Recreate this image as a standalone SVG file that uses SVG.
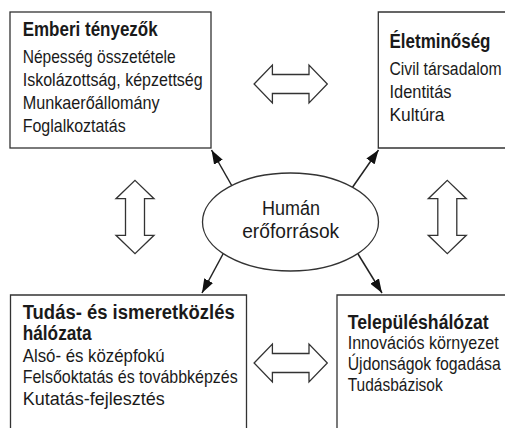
<svg xmlns="http://www.w3.org/2000/svg" width="505" height="428" viewBox="0 0 505 428">
<style>
  .box { fill: #ffffff; stroke: #333333; stroke-width: 1.3; }
  .t { font-family: 'Liberation Sans Narrow', 'Liberation Sans', Arial, sans-serif; fill: #1a1a1a; }
  .title { font-size: 19.5px; font-weight: bold; }
  .body { font-size: 18.5px; }
  .body4 { font-size: 18px; }
  .ctr { font-size: 20px; text-anchor: middle; }
  .conn { stroke: #222222; stroke-width: 1.5; fill: none; }
  .dbl { fill: #ffffff; stroke: #333333; stroke-width: 1.3; stroke-linejoin: miter; }
</style>
<defs>
  <marker id="ah" viewBox="0 0 14 10" refX="14" refY="5" markerWidth="14" markerHeight="10" markerUnits="userSpaceOnUse" orient="auto">
    <path d="M0,0 L14,5 L0,10 z" fill="#111111"/>
  </marker>
  <path id="dblH" class="dbl" d="M-36.6,0 L-18.3,-19 L-18.3,-9.5 L18.3,-9.5 L18.3,-19 L36.6,0 L18.3,19 L18.3,9.5 L-18.3,9.5 L-18.3,19 Z"/>
</defs>

<g id="connectors">
  <line class="conn" x1="232" y1="186" x2="211.5" y2="150" marker-end="url(#ah)"/>
  <line class="conn" x1="352" y1="188" x2="378.5" y2="150" marker-end="url(#ah)"/>
  <line class="conn" x1="223" y1="254" x2="202" y2="293" marker-end="url(#ah)"/>
  <line class="conn" x1="358" y1="254" x2="382" y2="293" marker-end="url(#ah)"/>
  <use href="#dblH" transform="translate(290.7,84)"/>
  <use href="#dblH" transform="translate(290.7,363)"/>
  <use href="#dblH" transform="translate(135,217) rotate(90)"/>
  <use href="#dblH" transform="translate(447.3,217) rotate(90)"/>
</g>

<g id="node-emberi">
  <rect class="box" x="10" y="12" width="201" height="136"/>
  <text class="t title" x="22.7" y="36" textLength="135" lengthAdjust="spacingAndGlyphs">Emberi tényezők</text>
  <text class="t body" x="22.7" y="63" textLength="153" lengthAdjust="spacingAndGlyphs">Népesség összetétele</text>
  <text class="t body" x="22.7" y="86" textLength="180" lengthAdjust="spacingAndGlyphs">Iskolázottság, képzettség</text>
  <text class="t body" x="22.7" y="109" textLength="137" lengthAdjust="spacingAndGlyphs">Munkaerőállomány</text>
  <text class="t body" x="22.7" y="132" textLength="103" lengthAdjust="spacingAndGlyphs">Foglalkoztatás</text>
</g>

<g id="node-eletminoseg">
  <path class="box" d="M505,12 H378.3 V148 H505"/>
  <text class="t title" x="389.5" y="48" textLength="101" lengthAdjust="spacingAndGlyphs">Életminőség</text>
  <text class="t body" transform="translate(389.5,75) scale(0.85,1)" x="0" y="0" textLength="131.8" lengthAdjust="spacingAndGlyphs">Civil társadalom</text>
  <text class="t body" x="389.5" y="98" textLength="62" lengthAdjust="spacingAndGlyphs">Identitás</text>
  <text class="t body" x="389.5" y="121" textLength="55" lengthAdjust="spacingAndGlyphs">Kultúra</text>
</g>

<g id="node-tudas">
  <path class="box" d="M10.5,428 V295 H246.5 V428"/>
  <text class="t title" x="22.7" y="318.5" textLength="212" lengthAdjust="spacingAndGlyphs">Tudás- és ismeretközlés</text>
  <text class="t title" x="22.7" y="340" textLength="69" lengthAdjust="spacingAndGlyphs">hálózata</text>
  <text class="t body" x="22.7" y="361.5" textLength="142" lengthAdjust="spacingAndGlyphs">Alsó- és középfokú</text>
  <text class="t body" x="22.7" y="383" textLength="215" lengthAdjust="spacingAndGlyphs">Felsőoktatás és továbbképzés</text>
  <text class="t body" x="22.7" y="404.5" textLength="142" lengthAdjust="spacingAndGlyphs">Kutatás-fejlesztés</text>
</g>

<g id="node-telepules">
  <path class="box" d="M505,295 H337 V428"/>
  <text class="t title" x="347.7" y="329" textLength="141" lengthAdjust="spacingAndGlyphs">Településhálózat</text>
  <text class="t body4" transform="translate(347.7,349.3) scale(0.89,1)" x="0" y="0" textLength="169.7" lengthAdjust="spacingAndGlyphs">Innovációs környezet</text>
  <text class="t body4" transform="translate(347.7,369.7) scale(0.88,1)" x="0" y="0" textLength="173.9" lengthAdjust="spacingAndGlyphs">Újdonságok fogadása</text>
  <text class="t body4" x="347.7" y="390.5" textLength="95" lengthAdjust="spacingAndGlyphs">Tudásbázisok</text>
</g>

<g id="node-human">
  <ellipse class="box" cx="290.5" cy="222" rx="88" ry="49"/>
  <text class="t ctr" x="291" y="215" textLength="58" lengthAdjust="spacingAndGlyphs">Humán</text>
  <text class="t ctr" x="290.7" y="238" textLength="97" lengthAdjust="spacingAndGlyphs">erőforrások</text>
</g>
</svg>
